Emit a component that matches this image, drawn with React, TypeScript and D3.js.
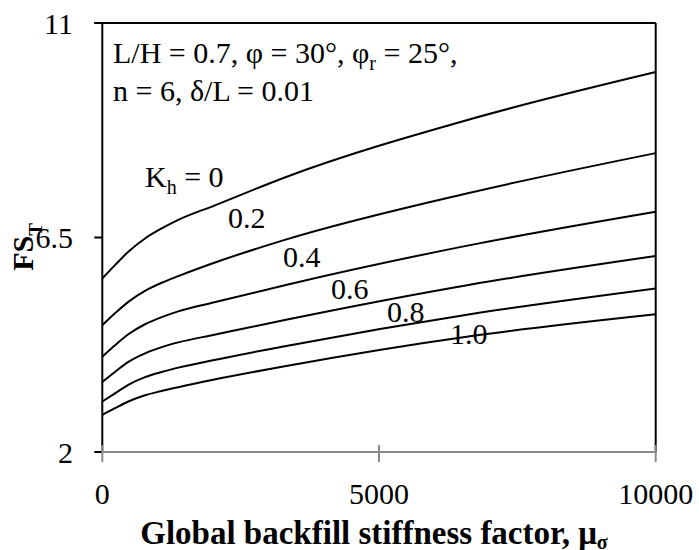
import React from "react";
import * as d3 from "d3";

const xValues = [0, 229, 470, 772, 1073, 1373, 2024, 3298, 6645, 10000];
const kh0 = [5.64, 5.92, 6.2, 6.48, 6.69, 6.87, 7.17, 7.76, 8.98, 9.97];
const kh02 = [4.66, 4.91, 5.15, 5.38, 5.55, 5.69, 5.97, 6.45, 7.44, 8.27];
const kh04 = [4.0, 4.24, 4.47, 4.68, 4.83, 4.95, 5.14, 5.5, 6.34, 7.04];
const kh06 = [3.47, 3.68, 3.89, 4.07, 4.2, 4.3, 4.46, 4.77, 5.51, 6.11];
const kh08 = [3.06, 3.23, 3.41, 3.57, 3.68, 3.77, 3.93, 4.22, 4.89, 5.43];
const kh10 = [2.78, 2.92, 3.06, 3.19, 3.28, 3.36, 3.52, 3.8, 4.43, 4.89];
const seriesList = [kh0, kh02, kh04, kh06, kh08, kh10];
const xTicks = [0, 5000, 10000];
const yTicks = [2, 6.5, 11];
const yTickLabels = ["2", "6.5", "11"];

const W = 699;
const H = 550;
const left = 102.3;
const right = 655.7;
const top = 23;
const bottom = 452;
const font = "'Liberation Serif', 'Times New Roman', serif";

export default function App() {
  const x = d3.scaleLinear().domain([0, 10000]).range([left, right]);
  const y = d3.scaleLinear().domain([2, 11]).range([bottom, top]);
  const line = d3
    .line<number>()
    .x((_, i) => x(xValues[i]))
    .y((d) => y(d))
    .curve(d3.curveMonotoneX);

  return (
    <svg
      width={W}
      height={H}
      style={{ position: "absolute", left: 0, top: 0, background: "#fff" }}
      fontFamily={font}
    >
      <rect x={0} y={0} width={W} height={H} fill="#fff" />
      {/* plot border top & right */}
      <line x1={left - 8} y1={top} x2={right} y2={top} stroke="#000" strokeWidth={2} />
      <line x1={right} y1={top} x2={right} y2={bottom} stroke="#000" strokeWidth={2} />
      {/* y axis */}
      <line x1={left} y1={top} x2={left} y2={bottom} stroke="#000" strokeWidth={2} />
      {yTicks.map((t, i) => (
        <g key={t}>
          <line x1={left - 8} x2={left} y1={y(t)} y2={y(t)} stroke="#000" strokeWidth={2} />
          <text
            x={73}
            y={y(t)}
            dy="0.35em"
            textAnchor="end"
            fontSize={30}
            fill="#000"
          >
            {yTickLabels[i]}
          </text>
        </g>
      ))}
      {/* x axis */}
      <line x1={left} y1={bottom} x2={right} y2={bottom} stroke="#898989" strokeWidth={2} />
      {xTicks.map((t) => (
        <g key={t}>
          <line x1={x(t)} x2={x(t)} y1={bottom - 7} y2={bottom + 10} stroke="#898989" strokeWidth={2} />
          <text x={x(t)} y={504} textAnchor="middle" fontSize={30} fill="#000">
            {t}
          </text>
        </g>
      ))}
      {/* curves */}
      {seriesList.map((s, i) => (
        <path key={i} d={line(s) || ""} fill="none" stroke="#000" strokeWidth={2} />
      ))}
      {/* annotations */}
      <text x={113} y={63} fontSize={30} fill="#000">
        L/H = 0.7, φ = 30°, φ<tspan baselineShift="-7" fontSize={20}>r</tspan>
        <tspan baselineShift="0"> = 25°,</tspan>
      </text>
      <text x={113} y={101} fontSize={30} fill="#000">
        n = 6, δ/L = 0.01
      </text>
      <text x={145} y={187} fontSize={30} fill="#000">
        K<tspan baselineShift="-7" fontSize={20}>h</tspan>
        <tspan baselineShift="0"> = 0</tspan>
      </text>
      <text x={228} y={228} fontSize={30} fill="#000">0.2</text>
      <text x={283} y={267} fontSize={30} fill="#000">0.4</text>
      <text x={331} y={299} fontSize={30} fill="#000">0.6</text>
      <text x={387} y={322} fontSize={30} fill="#000">0.8</text>
      <text x={450} y={344} fontSize={30} fill="#000">1.0</text>
      {/* axis titles */}
      <text x={374} y={544} textAnchor="middle" fontSize={33} fontWeight="bold" fill="#000">
        Global backfill stiffness factor, μ<tspan baselineShift="-5" fontSize={20}>σ</tspan>
      </text>
      <text
        transform={`translate(33, 247) rotate(-90)`}
        textAnchor="middle"
        fontSize={30}
        fontWeight="bold"
        fill="#000"
      >
        FS<tspan baselineShift="-9" fontSize={19}>T</tspan>
      </text>
    </svg>
  );
}
